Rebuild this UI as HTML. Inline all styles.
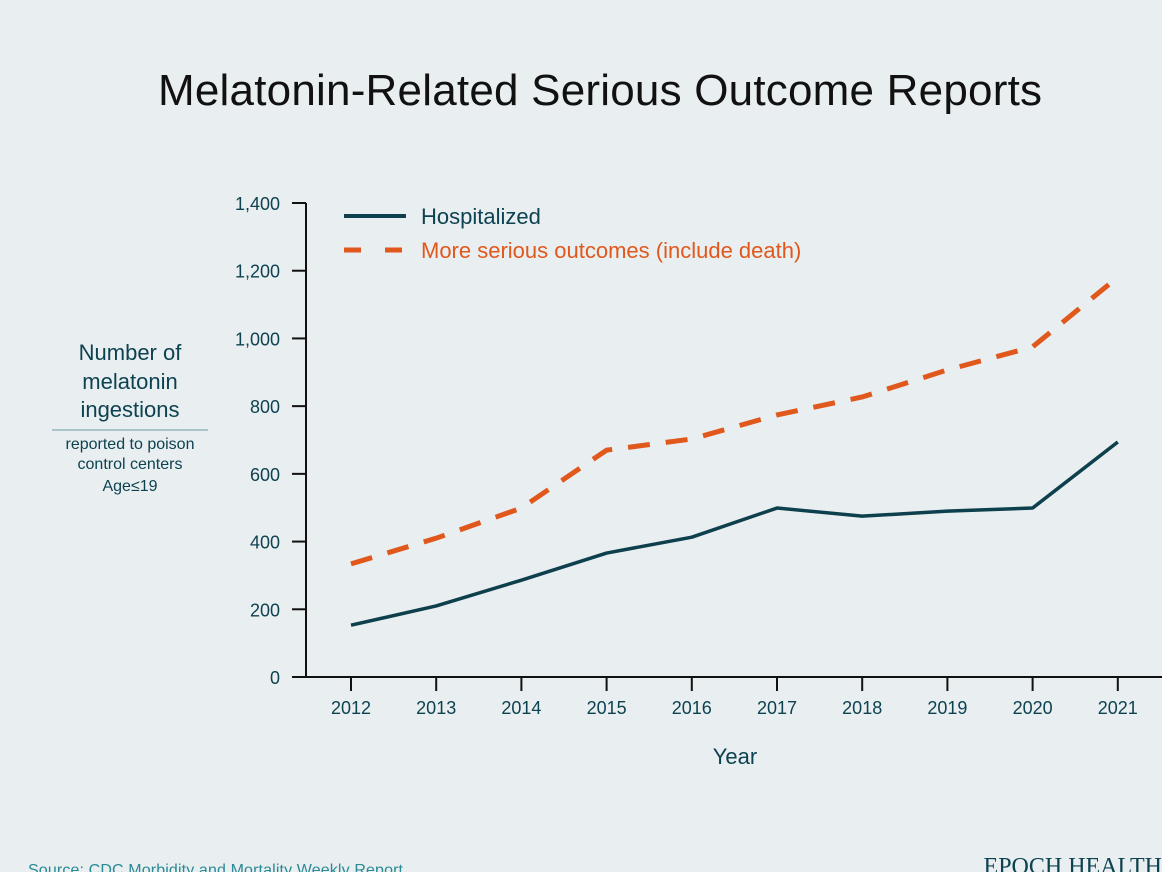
<!DOCTYPE html>
<html><head><meta charset="utf-8"><style>
body{margin:0;background:#e9eef0;}
svg{display:block;font-family:"Liberation Sans",sans-serif;}
</style></head><body>
<svg width="1162" height="872" id="chart">
<rect width="1162" height="872" fill="#e9eef0"/>
<text x="600" y="105" text-anchor="middle" font-size="44" fill="#111" textLength="884">Melatonin-Related Serious Outcome Reports</text>
<g fill="#0d4250" text-anchor="middle">
<text x="130" y="360" font-size="22">Number of</text>
<text x="130" y="389" font-size="22">melatonin</text>
<text x="130" y="417" font-size="22">ingestions</text>
<line x1="52" y1="430" x2="208" y2="430" stroke="#6a9aa5" stroke-width="1"/>
<text x="130" y="449" font-size="16">reported to poison</text>
<text x="130" y="469" font-size="16">control centers</text>
<text x="130" y="491" font-size="16">Age≤19</text>
</g>
<g id="axes"></g>
<g id="series"></g>
<g>
<line x1="344" y1="216" x2="406" y2="216" stroke="#0d3f4c" stroke-width="4"/>
<text x="421" y="224" font-size="22" fill="#0d4250">Hospitalized</text>
<line x1="344" y1="250" x2="406" y2="250" stroke="#e0581c" stroke-width="5" stroke-dasharray="17 24"/>
<text x="421" y="258" font-size="22" fill="#e0581c">More serious outcomes (include death)</text>
</g>
<text x="735" y="764" text-anchor="middle" font-size="22" fill="#0d4250">Year</text>
<text x="28" y="875" font-size="16" fill="#2a8a95" textLength="375">Source: CDC Morbidity and Mortality Weekly Report</text>
<text x="1162" y="874" text-anchor="end" font-size="24" fill="#0d4250" font-family="Liberation Serif,serif">EPOCH HEALTH</text>
</svg>
<script>
const years=[2012,2013,2014,2015,2016,2017,2018,2019,2020,2021];
const hospitalized=[153,210,286,366,413,499,475,490,499,694];
const serious=[334,410,499,670,703,774,827,907,975,1181];
const yTicks=[0,200,400,600,800,1000,1200,1400];
const NS="http://www.w3.org/2000/svg";
const x=y=>351+(y-2012)*85.2;
const yv=v=>677-v*(474/1400);
const ax=document.getElementById('axes'),se=document.getElementById('series');
function mk(t,a,p){const e=document.createElementNS(NS,t);for(const k in a)e.setAttribute(k,a[k]);p.appendChild(e);return e;}
const yl=mk('line',{x1:306,y1:203,x2:306,y2:677,stroke:'#111','stroke-width':2},ax);


const xl=mk('line',{x1:292,y1:677,x2:1162,y2:677,stroke:'#111','stroke-width':2},ax);


yTicks.forEach(v=>{
 const l=mk('line',{x1:292,y1:yv(v),x2:306,y2:yv(v),stroke:'#111','stroke-width':2},ax);
 
 
 const t=mk('text',{x:280,y:yv(v)+7,'text-anchor':'end','font-size':18,fill:'#0d4250'},ax);
 t.textContent=v.toLocaleString('en-US');
 
 
});
years.forEach(yr=>{
 const l=mk('line',{x1:x(yr),y1:677,x2:x(yr),y2:691,stroke:'#111','stroke-width':2},ax);
 
 
 const t=mk('text',{x:x(yr),y:714,'text-anchor':'middle','font-size':18,fill:'#0d4250'},ax);
 t.textContent=yr;
 
 
});
const p1=mk('polyline',{points:years.map((yr,i)=>x(yr)+','+yv(hospitalized[i])).join(' '),fill:'none',stroke:'#0d3f4c','stroke-width':3.5,'stroke-linejoin':'round'},se);


const p2=mk('polyline',{points:years.map((yr,i)=>x(yr)+','+yv(serious[i])).join(' '),fill:'none',stroke:'#e0581c','stroke-width':5,'stroke-dasharray':'22 16'},se);


</script>
</body></html>
